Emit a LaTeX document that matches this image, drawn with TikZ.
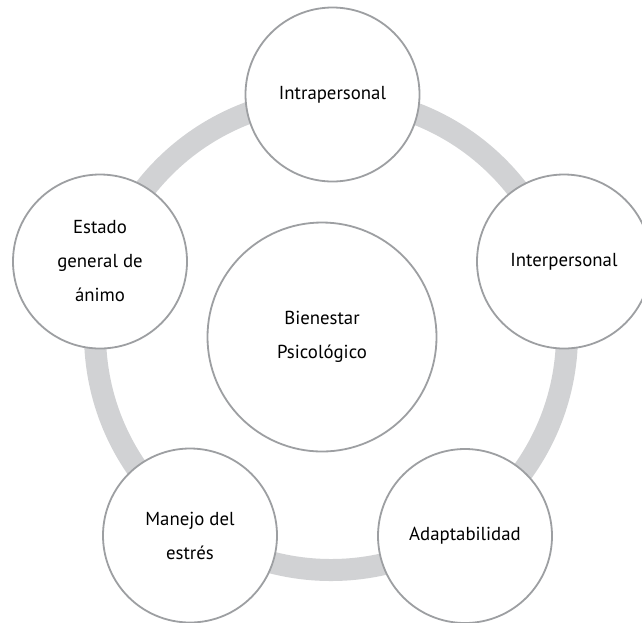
\documentclass[tikz,border=0pt]{standalone}
\usepackage{fontspec}
\setmainfont{PT Sans}
\definecolor{ringgray}{HTML}{D1D2D4}
\definecolor{edgegray}{HTML}{9D9FA2}
\begin{document}
\begin{tikzpicture}[x=1pt,y=-1pt,
  bubble/.style={circle, draw=edgegray, line width=1.8pt, fill=white,
    minimum size=174pt, inner sep=0pt, align=center,
    font=\fontsize{18.8}{34}\selectfont},
  hub/.style={bubble, minimum size=229pt}]
  \useasboundingbox (0,0) rectangle (642,622);
  \clip (0,0) rectangle (642,622);
  \fill[white] (0,0) rectangle (642,622);
  % connecting ring
  \coordinate (ringc) at (331,334);
  \draw[ringgray, line width=22pt] (ringc) circle[radius=236pt];
  % central concept
  \node[hub] (bien) at (322,337) {Bienestar\\Psicológico};
  % surrounding dimensions
  \node[bubble] (intra) at (332.5,94.5) {Intrapersonal};
  \node[bubble] (inter) at (564,261.5) {Interpersonal};
  \node[bubble] (adapt) at (465,536) {Adaptabilidad};
  \node[bubble] (manejo) at (190,535.5) {Manejo del\\estrés};
  \node[bubble] (estado) at (100,261.5) {Estado\\general de\\ánimo};
\end{tikzpicture}
\end{document}
